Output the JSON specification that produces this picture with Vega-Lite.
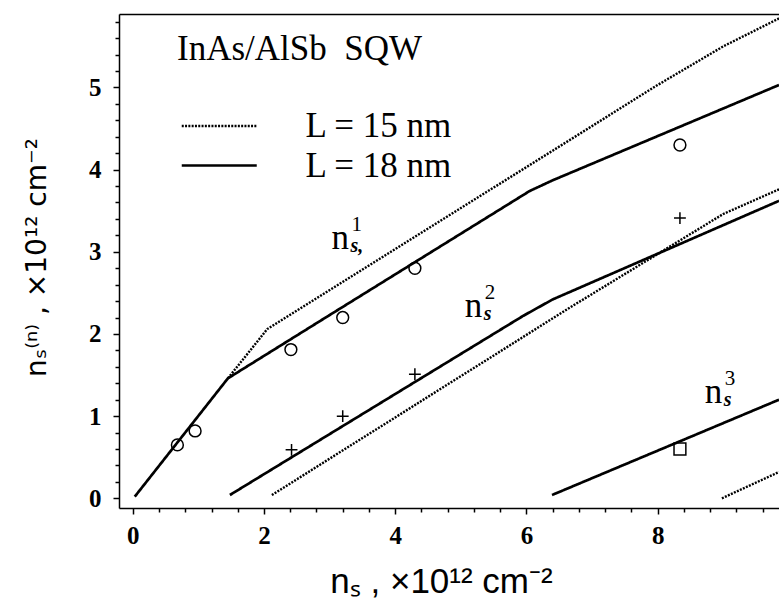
{
  "$schema": "https://vega.github.io/schema/vega-lite/v6.json",
  "width": 660,
  "height": 494,
  "autosize": {"type": "none"},
  "padding": {"left": 119, "top": 14, "right": 0, "bottom": 100},
  "background": "white",
  "config": {
    "view": {"stroke": null},
    "axis": {
      "domainColor": "black",
      "domainWidth": 1.5,
      "tickColor": "black",
      "tickWidth": 1.5,
      "grid": false,
      "labelColor": "black",
      "labelFont": "Liberation Serif",
      "labelFontWeight": "bold",
      "labelFontSize": 25,
      "labelOverlap": false,
      "titleColor": "black",
      "titleFont": "Liberation Sans",
      "titleFontWeight": "normal",
      "titleFontSize": 35
    }
  },
  "datasets": {
    "curves": [
      {"L": "L = 18 nm", "branch": "18-1", "ns": 0.03, "nsi": 0.02},
      {"L": "L = 18 nm", "branch": "18-1", "ns": 1.45, "nsi": 1.46},
      {"L": "L = 18 nm", "branch": "18-1", "ns": 3.0, "nsi": 2.23},
      {"L": "L = 18 nm", "branch": "18-1", "ns": 6.05, "nsi": 3.74},
      {"L": "L = 18 nm", "branch": "18-1", "ns": 6.4, "nsi": 3.87},
      {"L": "L = 18 nm", "branch": "18-1", "ns": 9.85, "nsi": 5.03},
      {"L": "L = 15 nm", "branch": "15-1", "ns": 1.45, "nsi": 1.46},
      {"L": "L = 15 nm", "branch": "15-1", "ns": 2.05, "nsi": 2.06},
      {"L": "L = 15 nm", "branch": "15-1", "ns": 6.4, "nsi": 4.23},
      {"L": "L = 15 nm", "branch": "15-1", "ns": 8.0, "nsi": 5.03},
      {"L": "L = 15 nm", "branch": "15-1", "ns": 9.0, "nsi": 5.5},
      {"L": "L = 15 nm", "branch": "15-1", "ns": 9.85, "nsi": 5.84},
      {"L": "L = 18 nm", "branch": "18-2", "ns": 1.48, "nsi": 0.04},
      {"L": "L = 18 nm", "branch": "18-2", "ns": 5.95, "nsi": 2.22},
      {"L": "L = 18 nm", "branch": "18-2", "ns": 6.4, "nsi": 2.42},
      {"L": "L = 18 nm", "branch": "18-2", "ns": 9.85, "nsi": 3.62},
      {"L": "L = 15 nm", "branch": "15-2", "ns": 2.12, "nsi": 0.04},
      {"L": "L = 15 nm", "branch": "15-2", "ns": 6.66, "nsi": 2.32},
      {"L": "L = 15 nm", "branch": "15-2", "ns": 9.0, "nsi": 3.46},
      {"L": "L = 15 nm", "branch": "15-2", "ns": 9.85, "nsi": 3.76},
      {"L": "L = 18 nm", "branch": "18-3", "ns": 6.39, "nsi": 0.04},
      {"L": "L = 18 nm", "branch": "18-3", "ns": 9.85, "nsi": 1.2},
      {"L": "L = 15 nm", "branch": "15-3", "ns": 8.98, "nsi": 0.0},
      {"L": "L = 15 nm", "branch": "15-3", "ns": 9.85, "nsi": 0.32}
    ],
    "points": [
      {"kind": "circle", "ns": 0.68, "nsi": 0.65},
      {"kind": "circle", "ns": 0.95, "nsi": 0.82},
      {"kind": "circle", "ns": 2.41, "nsi": 1.81},
      {"kind": "circle", "ns": 3.2, "nsi": 2.2},
      {"kind": "circle", "ns": 4.3, "nsi": 2.8},
      {"kind": "circle", "ns": 8.34, "nsi": 4.3},
      {"kind": "plus", "ns": 2.42, "nsi": 0.59},
      {"kind": "plus", "ns": 3.2, "nsi": 1.0},
      {"kind": "plus", "ns": 4.3, "nsi": 1.51},
      {"kind": "plus", "ns": 8.34, "nsi": 3.41},
      {"kind": "square", "ns": 8.34, "nsi": 0.6}
    ],
    "labels": [
      {"ns": 3.03, "nsi": 3.04, "base": "n", "sub": "s,", "sup": "1"},
      {"ns": 5.06, "nsi": 2.21, "base": "n", "sub": "s", "sup": "2"},
      {"ns": 8.72, "nsi": 1.16, "base": "n", "sub": "s", "sup": "3"}
    ]
  },
  "resolve": {"scale": {"x": "shared", "y": "shared"}, "axis": {"x": "independent", "y": "independent"}},
  "layer": [
    {
      "data": {"name": "curves"},
      "mark": {"type": "line", "color": "black", "clip": true, "strokeCap": "butt"},
      "encoding": {
        "x": {
          "field": "ns", "type": "quantitative",
          "scale": {"domain": [-0.21, 9.85], "nice": false, "zero": false},
          "axis": {
            "orient": "bottom",
            "values": [0, 2, 4, 6, 8],
            "format": "d",
            "tickSize": 6,
            "labelPadding": 9,
            "title": "nₛ , ×10¹² cm⁻²",
            "titleX": 322,
            "titleY": 84,
            "titleAlign": "center",
            "titleBaseline": "alphabetic"
          }
        },
        "y": {
          "field": "nsi", "type": "quantitative",
          "scale": {"domain": [-0.118, 5.894], "nice": false, "zero": false},
          "axis": {
            "orient": "left",
            "values": [0, 1, 2, 3, 4, 5],
            "format": "d",
            "tickSize": 6,
            "labelPadding": 12,
            "title": "nₛ⁽ⁿ⁾ , ×10¹² cm⁻²",
            "titleFont": "DejaVu Sans",
            "titleFontSize": 28,
            "titleAngle": -90,
            "titleX": -74,
            "titleY": 243,
            "titleAlign": "center",
            "titleBaseline": "alphabetic"
          }
        },
        "detail": {"field": "branch", "type": "nominal"},
        "strokeDash": {
          "field": "L", "type": "nominal",
          "scale": {"domain": ["L = 15 nm", "L = 18 nm"], "range": [[2, 1.3], [1, 0]]},
          "legend": {
            "orient": "none", "legendX": 58, "legendY": 18,
            "title": "InAs/AlSb\u00a0 SQW", "titleLimit": 0,
            "titleFont": "Liberation Serif", "titleFontSize": 35, "titleFontWeight": "normal", "titleColor": "black",
            "titlePadding": 39,
            "labelFont": "Liberation Serif", "labelFontSize": 35, "labelColor": "black", "labelLimit": 0,
            "symbolType": "M-2,0H2", "symbolSize": 1406, "symbolStrokeColor": "black",
            "symbolOffset": 21.75, "labelOffset": 65.75, "rowPadding": 1, "padding": 0
          }
        },
        "strokeWidth": {
          "field": "L", "type": "nominal",
          "scale": {"domain": ["L = 15 nm", "L = 18 nm"], "range": [2.4, 2.7]},
          "legend": {
            "orient": "none", "legendX": 58, "legendY": 18,
            "title": "InAs/AlSb\u00a0 SQW", "titleLimit": 0,
            "titleFont": "Liberation Serif", "titleFontSize": 35, "titleFontWeight": "normal", "titleColor": "black",
            "titlePadding": 39,
            "labelFont": "Liberation Serif", "labelFontSize": 35, "labelColor": "black", "labelLimit": 0,
            "symbolType": "M-2,0H2", "symbolSize": 1406, "symbolStrokeColor": "black",
            "symbolOffset": 21.75, "labelOffset": 65.75, "rowPadding": 1, "padding": 0
          }
        }
      }
    },
    {
      "data": {"name": "points"},
      "mark": {"type": "point", "filled": false, "stroke": "black", "strokeWidth": 1.5, "size": 140, "opacity": 1},
      "encoding": {
        "x": {
          "field": "ns", "type": "quantitative",
          "scale": {"domain": [-0.21, 9.85], "nice": false, "zero": false},
          "axis": {"orient": "top", "ticks": false, "labels": false, "title": null}
        },
        "y": {
          "field": "nsi", "type": "quantitative",
          "scale": {"domain": [-0.118, 5.894], "nice": false, "zero": false},
          "axis": null
        },
        "shape": {
          "field": "kind", "type": "nominal",
          "scale": {"domain": ["circle", "plus", "square"], "range": ["circle", "M-1,0H1M0,-1V1", "square"]},
          "legend": null
        }
      }
    },
    {
      "data": {"name": "labels"},
      "mark": {"type": "text", "font": "Liberation Serif", "fontSize": 35, "align": "left", "baseline": "alphabetic", "color": "black"},
      "encoding": {
        "x": {
          "field": "ns", "type": "quantitative",
          "scale": {"domain": [-0.21, 9.85], "nice": false, "zero": false},
          "axis": {"orient": "bottom", "values": [0.4, 0.8, 1.2, 1.6, 2.4, 2.8, 3.2, 3.6, 4.4, 4.8, 5.2, 5.6, 6.4, 6.8, 7.2, 7.6, 8.4, 8.8, 9.2, 9.6], "tickSize": 4, "labels": false, "domain": false, "title": null}
        },
        "y": {
          "field": "nsi", "type": "quantitative",
          "scale": {"domain": [-0.118, 5.894], "nice": false, "zero": false},
          "axis": {"orient": "left", "values": [0.2, 0.4, 0.6, 0.8, 1.2, 1.4, 1.6, 1.8, 2.2, 2.4, 2.6, 2.8, 3.2, 3.4, 3.6, 3.8, 4.2, 4.4, 4.6, 4.8, 5.2, 5.4, 5.6, 5.8], "tickSize": 4, "labels": false, "domain": false, "title": null}
        },
        "text": {"field": "base"}
      }
    },
    {
      "data": {"name": "labels"},
      "mark": {"type": "text", "font": "Liberation Serif", "fontSize": 20, "fontWeight": "bold", "fontStyle": "italic", "align": "left", "baseline": "alphabetic", "dx": 19, "dy": 3, "color": "black"},
      "encoding": {
        "x": {"field": "ns", "type": "quantitative", "scale": {"domain": [-0.21, 9.85], "nice": false, "zero": false}, "axis": null},
        "y": {"field": "nsi", "type": "quantitative", "scale": {"domain": [-0.118, 5.894], "nice": false, "zero": false}, "axis": null},
        "text": {"field": "sub"}
      }
    },
    {
      "data": {"name": "labels"},
      "mark": {"type": "text", "font": "Liberation Serif", "fontSize": 21, "align": "left", "baseline": "alphabetic", "dx": 20, "dy": -18, "color": "black"},
      "encoding": {
        "x": {"field": "ns", "type": "quantitative", "scale": {"domain": [-0.21, 9.85], "nice": false, "zero": false}, "axis": null},
        "y": {"field": "nsi", "type": "quantitative", "scale": {"domain": [-0.118, 5.894], "nice": false, "zero": false}, "axis": null},
        "text": {"field": "sup"}
      }
    }
  ]
}
